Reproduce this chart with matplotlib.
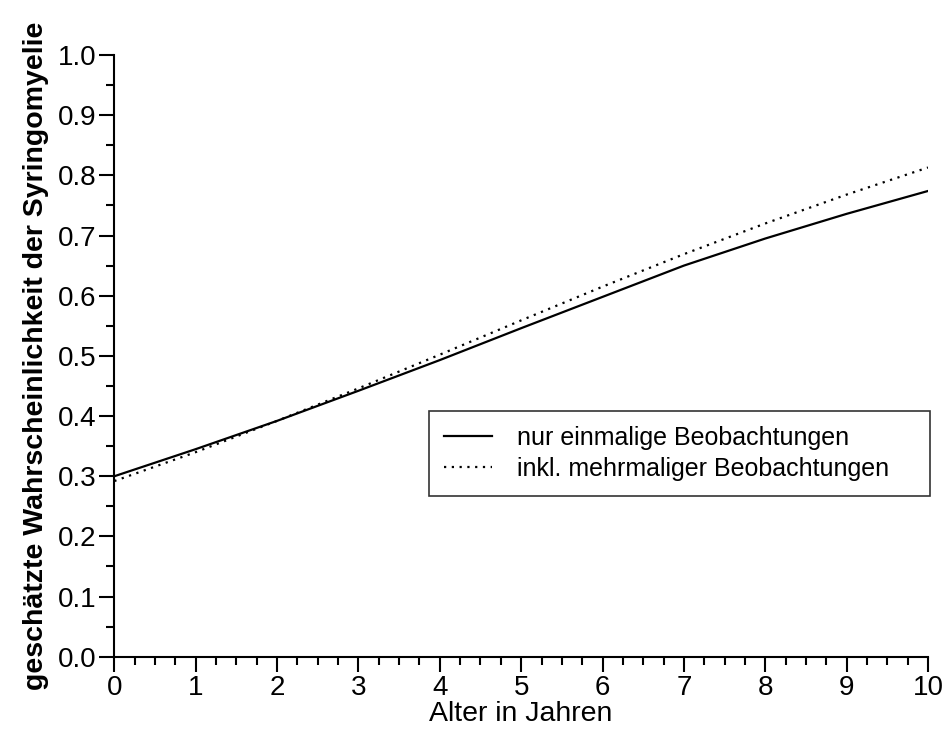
import matplotlib.pyplot as plt
from matplotlib.ticker import MultipleLocator

plt.rcParams['font.family'] = ['Liberation Sans', 'DejaVu Sans']

alter = [0, 1, 2, 3, 4, 5, 6, 7, 8, 9, 10]
einmalig = [0.300, 0.345, 0.392, 0.442, 0.493, 0.546, 0.598, 0.650, 0.695, 0.736, 0.774]
mehrmalig = [0.292, 0.340, 0.392, 0.446, 0.502, 0.559, 0.615, 0.669, 0.720, 0.768, 0.813]

fig = plt.figure(figsize=(9.45, 7.33), dpi=100)
ax = fig.add_axes([0.121, 0.104, 0.861, 0.821])

ax.plot(alter, einmalig, color='black', lw=1.6, label='nur einmalige Beobachtungen')
ax.plot(alter, mehrmalig, color='black', lw=1.6, linestyle=(0, (1, 2.5)),
        label='inkl. mehrmaliger Beobachtungen')

ax.set_xlim(0, 10)
ax.set_ylim(0, 1.0)
ax.xaxis.set_major_locator(MultipleLocator(1))
ax.xaxis.set_minor_locator(MultipleLocator(0.25))
ax.yaxis.set_major_locator(MultipleLocator(0.1))
ax.yaxis.set_minor_locator(MultipleLocator(0.05))
ax.yaxis.set_major_formatter(plt.FormatStrFormatter('%.1f'))

for s in ['top', 'right']:
    ax.spines[s].set_visible(False)
for s in ['left', 'bottom']:
    ax.spines[s].set_linewidth(1.5)

ax.tick_params(which='major', direction='out', length=11, width=1.5, labelsize=20, pad=2)
ax.tick_params(which='minor', direction='out', length=6, width=1.5)

ax.set_xlabel('Alter in Jahren', fontsize=20.5, labelpad=0)
ax.set_ylabel('geschätzte Wahrscheinlichkeit der Syringomyelie', fontsize=20.5,
              fontweight='bold', labelpad=6)

# legend box stretched to the width seen in the reference
leg = ax.legend(loc='lower left', bbox_to_anchor=(0.387, 0.267, 0.616, 0.135), mode='expand',
                fontsize=18, frameon=True, fancybox=False, edgecolor='black',
                handlelength=1.9, borderpad=0.6, labelspacing=0.3, handletextpad=1.0,
                borderaxespad=0)
leg.get_frame().set_linewidth(1.2)

fig.savefig('out.png', dpi=100)
